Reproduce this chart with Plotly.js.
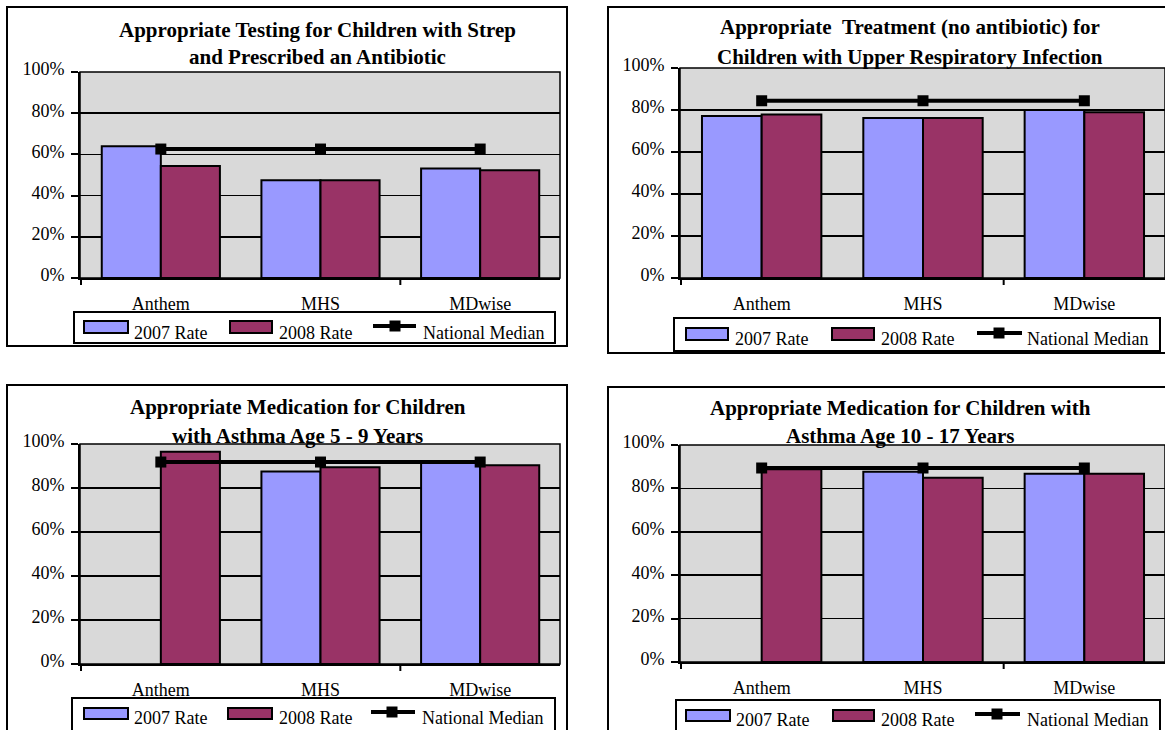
<!DOCTYPE html>
<html>
<head>
<meta charset="utf-8">
<script src="https://cdn.plot.ly/plotly-3.0.1.min.js"></script>
<style>
  html, body { margin: 0; padding: 0; background: #ffffff; }
  #chart { width: 1165px; height: 730px; }
</style>
</head>
<body>
<div id="chart"></div>
<script>
// Health plan categories shared by every panel
const categories = ['Anthem', 'MHS', 'MDwise'];

// Appropriate testing for children with strep (%)
const strepRate2007 = [64.0, 47.4, 53.2];
const strepRate2008 = [54.4, 47.4, 52.3];
const strepMedian   = [62.6, 62.6, 62.6];

// Appropriate treatment for upper respiratory infection (%)
const uriRate2007 = [77.1, 76.2, 80.0];
const uriRate2008 = [77.9, 76.2, 78.9];
const uriMedian   = [84.4, 84.4, 84.4];

// Asthma medication, age 5 - 9 (%)
const asthmaYoungRate2007 = [null, 87.5, 91.5];
const asthmaYoungRate2008 = [96.5, 89.4, 90.3];
const asthmaYoungMedian   = [91.8, 91.8, 91.8];

// Asthma medication, age 10 - 17 (%)
const asthmaTeenRate2007 = [null, 87.7, 86.8];
const asthmaTeenRate2008 = [88.8, 84.9, 86.8];
const asthmaTeenMedian   = [89.4, 89.4, 89.4];

const yTickValues = [0, 20, 40, 60, 80, 100];
const yTickLabels = ['0%', '20%', '40%', '60%', '80%', '100%'];
const seriesNames = ['2007 Rate', '2008 Rate', 'National Median'];

const W = 1165, H = 730;
const FONT = '"Liberation Serif", serif';
const C2007 = '#9999ff';
const C2008 = '#993366';

const px = v => v / W;          // pixel x -> paper
const py = v => 1 - v / H;      // pixel y -> paper

// Panel geometry (pixels)
const panels = [
  { box: [7, 7, 567, 346], plot: [80, 72, 560, 278], titleX: 317,
    title: ['Appropriate Testing for Children with Strep', 'and Prescribed an Antibiotic'], titleY: [30, 57],
    data: [strepRate2007, strepRate2008, strepMedian],
    legend: { box: [74, 312, 555, 343], sw: [84, 128, 230, 272], swY: [321, 333], med: [373, 416, 395], medY: 326, txt: [132, 277, 421], txtY: 333 } },
  { box: [608, 7, 1175, 353], plot: [680, 68, 1165, 278], titleX: 910,
    title: ['Appropriate \u00a0Treatment (no antibiotic) for', 'Children with Upper Respiratory Infection'], titleY: [27, 57],
    data: [uriRate2007, uriRate2008, uriMedian],
    legend: { box: [674, 318, 1160, 351], sw: [686, 728, 832, 874], swY: [328, 340], med: [977, 1022, 999], medY: 333, txt: [733, 879, 1025], txtY: 339 } },
  { box: [7, 385, 567, 740], plot: [80, 444, 560, 664], titleX: 298,
    title: ['Appropriate Medication for Children', 'with Asthma Age 5 - 9 Years'], titleY: [407, 436],
    data: [asthmaYoungRate2007, asthmaYoungRate2008, asthmaYoungMedian],
    legend: { box: [72, 698, 555, 740], sw: [84, 128, 228, 272], swY: [708, 719], med: [371, 415, 392], medY: 712, txt: [132, 277, 420], txtY: 718 } },
  { box: [608, 387, 1175, 740], plot: [680, 445, 1165, 662], titleX: 900,
    title: ['Appropriate Medication for Children with', 'Asthma Age 10 - 17 Years'], titleY: [408, 436],
    data: [asthmaTeenRate2007, asthmaTeenRate2008, asthmaTeenMedian],
    legend: { box: [676, 700, 1160, 740], sw: [686, 730, 833, 874], swY: [710, 721], med: [975, 1020, 997], medY: 714, txt: [734, 879, 1025], txtY: 720 } }
];

const traces = [];
const shapes = [];
const annotations = [];
const layout = {
  width: W, height: H,
  margin: { l: 0, r: 0, t: 0, b: 0 },
  paper_bgcolor: '#ffffff',
  plot_bgcolor: '#d9d9d9',
  showlegend: false,
  barmode: 'group',
  bargap: 0.26,
  bargroupgap: 0,
  font: { family: FONT, size: 18, color: '#000000' }
};

panels.forEach((p, i) => {
  const n = i === 0 ? '' : String(i + 1);
  const xa = 'x' + n, ya = 'y' + n;
  const [px0, py0, px1, py1] = p.plot;
  const plotH = py1 - py0;

  layout['xaxis' + n] = {
    domain: [px(px0), Math.min(1, px(px1))],
    anchor: ya,
    type: 'category',
    showline: true, linecolor: '#000', linewidth: 2,
    ticks: '', showgrid: false, zeroline: false,
    ticklabelstandoff: 8,
    tickfont: { family: FONT, size: 18, color: '#000' },
    fixedrange: true
  };
  layout['yaxis' + n] = {
    domain: [py(py1), py(py0)],
    anchor: xa,
    range: [0, 100],
    tickmode: 'array', tickvals: yTickValues, ticktext: yTickLabels,
    ticks: 'outside', ticklen: 7, tickwidth: 2, tickcolor: '#000',
    ticklabelstandoff: 3,
    ticklabelshift: -3,
    showline: true, linecolor: '#000', linewidth: 2,
    showgrid: true, gridcolor: '#000', gridwidth: 1.5,
    zeroline: false,
    tickfont: { family: FONT, size: 18, color: '#000' },
    fixedrange: true
  };
  // plot-area frame
  shapes.push({ type: 'rect', xref: xa + ' domain', yref: ya + ' domain', x0: 0, x1: 1, y0: 0, y1: 1,
    line: { color: '#000', width: 1.5 }, layer: 'below' });
  // category-boundary tick marks under the x axis
  [-0.5, 1.5].forEach(b => shapes.push({ type: 'line', xref: xa, yref: ya + ' domain',
    x0: b, x1: b, y0: 0, y1: -7 / plotH, line: { color: '#000', width: 2 } }));

  traces.push({ type: 'bar', name: seriesNames[0], x: categories, y: p.data[0], xaxis: xa, yaxis: ya,
    marker: { color: C2007, line: { color: '#000', width: 2 } }, hoverinfo: 'x+y' });
  traces.push({ type: 'bar', name: seriesNames[1], x: categories, y: p.data[1], xaxis: xa, yaxis: ya,
    marker: { color: C2008, line: { color: '#000', width: 2 } }, hoverinfo: 'x+y' });
  traces.push({ type: 'scatter', mode: 'lines+markers', name: seriesNames[2], x: categories, y: p.data[2],
    xaxis: xa, yaxis: ya, line: { color: '#000', width: 4 },
    marker: { symbol: 'square', size: 11, color: '#000' }, hoverinfo: 'x+y' });

  // outer frame
  shapes.push({ type: 'rect', xref: 'paper', yref: 'paper',
    x0: px(p.box[0]), x1: px(p.box[2]), y0: py(p.box[3]), y1: py(p.box[1]),
    line: { color: '#000', width: 2 } });

  // title, two lines
  p.title.forEach((t, k) => annotations.push({ xref: 'paper', yref: 'paper',
    x: px(p.titleX), y: py(p.titleY[k]), xanchor: 'center', yanchor: 'middle', showarrow: false,
    text: '<b>' + t + '</b>', font: { family: FONT, size: 21, color: '#000' } }));

  // legend block
  const L = p.legend;
  shapes.push({ type: 'rect', xref: 'paper', yref: 'paper',
    x0: px(L.box[0]), x1: px(L.box[2]), y0: py(L.box[3]), y1: py(L.box[1]),
    fillcolor: '#fff', line: { color: '#000', width: 2 } });
  shapes.push({ type: 'rect', xref: 'paper', yref: 'paper',
    x0: px(L.sw[0]), x1: px(L.sw[1]), y0: py(L.swY[1]), y1: py(L.swY[0]),
    fillcolor: C2007, line: { color: '#000', width: 2 } });
  shapes.push({ type: 'rect', xref: 'paper', yref: 'paper',
    x0: px(L.sw[2]), x1: px(L.sw[3]), y0: py(L.swY[1]), y1: py(L.swY[0]),
    fillcolor: C2008, line: { color: '#000', width: 2 } });
  shapes.push({ type: 'line', xref: 'paper', yref: 'paper',
    x0: px(L.med[0]), x1: px(L.med[1]), y0: py(L.medY), y1: py(L.medY),
    line: { color: '#000', width: 4 } });
  shapes.push({ type: 'rect', xref: 'paper', yref: 'paper',
    x0: px(L.med[2] - 5.5), x1: px(L.med[2] + 5.5), y0: py(L.medY + 5.5), y1: py(L.medY - 5.5),
    fillcolor: '#000', line: { color: '#000', width: 0 } });
  seriesNames.forEach((s, k) => annotations.push({ xref: 'paper', yref: 'paper',
    x: px(L.txt[k]), y: py(L.txtY), xanchor: 'left', yanchor: 'middle', showarrow: false,
    text: s, font: { family: FONT, size: 18, color: '#000' } }));
});

layout.shapes = shapes;
layout.annotations = annotations;

Plotly.newPlot('chart', traces, layout, { displayModeBar: false, staticPlot: true });
</script>
</body>
</html>
